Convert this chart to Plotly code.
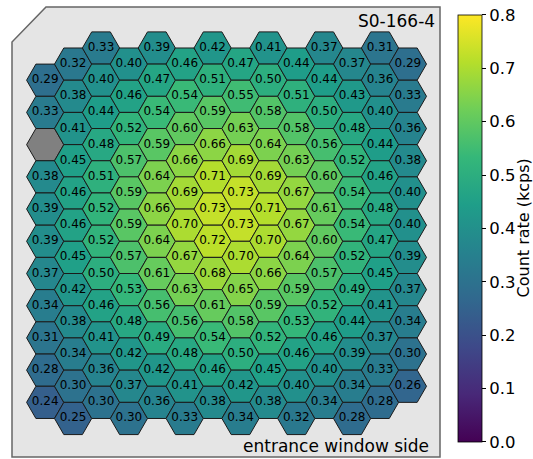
import numpy as np
import plotly.graph_objects as go
from plotly.colors import sample_colorscale

# Count rate (kcps) per detector pixel, one list per hex column, top to bottom.
# None = inactive pixel (drawn grey).
c00 = [0.29, 0.33, None, 0.38, 0.39, 0.39, 0.37, 0.34, 0.31, 0.28, 0.24]
c01 = [0.32, 0.38, 0.41, 0.45, 0.46, 0.46, 0.45, 0.42, 0.38, 0.34, 0.30, 0.25]
c02 = [0.33, 0.40, 0.44, 0.48, 0.51, 0.52, 0.52, 0.50, 0.46, 0.41, 0.36, 0.30]
c03 = [0.40, 0.46, 0.52, 0.57, 0.59, 0.59, 0.57, 0.53, 0.48, 0.42, 0.37, 0.30]
c04 = [0.39, 0.47, 0.54, 0.59, 0.64, 0.66, 0.64, 0.61, 0.56, 0.49, 0.42, 0.36]
c05 = [0.46, 0.54, 0.60, 0.66, 0.69, 0.70, 0.67, 0.63, 0.56, 0.48, 0.41, 0.33]
c06 = [0.42, 0.51, 0.59, 0.66, 0.71, 0.73, 0.72, 0.68, 0.61, 0.54, 0.46, 0.38]
c07 = [0.47, 0.55, 0.63, 0.69, 0.73, 0.73, 0.70, 0.65, 0.58, 0.50, 0.42, 0.34]
c08 = [0.41, 0.50, 0.58, 0.64, 0.69, 0.71, 0.70, 0.66, 0.59, 0.52, 0.45, 0.38]
c09 = [0.44, 0.51, 0.58, 0.63, 0.67, 0.67, 0.64, 0.59, 0.53, 0.46, 0.40, 0.32]
c10 = [0.37, 0.44, 0.50, 0.56, 0.60, 0.61, 0.60, 0.57, 0.52, 0.46, 0.40, 0.34]
c11 = [0.37, 0.43, 0.48, 0.52, 0.54, 0.54, 0.52, 0.49, 0.44, 0.39, 0.34, 0.28]
c12 = [0.31, 0.36, 0.40, 0.44, 0.46, 0.48, 0.47, 0.45, 0.41, 0.37, 0.33, 0.28]
c13 = [0.29, 0.33, 0.36, 0.38, 0.40, 0.40, 0.39, 0.37, 0.34, 0.30, 0.26]

columns = [c00, c01, c02, c03, c04, c05, c06, c07, c08, c09, c10, c11, c12, c13]
first_row = [1] + [0] * 13          # first column starts one cell lower

detector_label = "S0-166-4"
side_label = "entrance window side"
cbar_title = "Count rate (kcps)"
cbar_ticks = [0.0, 0.1, 0.2, 0.3, 0.4, 0.5, 0.6, 0.7, 0.8]
vmin, vmax = 0.0, 0.8

FONT = "DejaVu Sans"
R = 1.0
H = np.sqrt(3) / 2 * R

shapes = []
# background frame with cut corner (paper coords)
shapes.append(dict(
    type="path", xref="paper", yref="paper",
    path="M 0,0 L 0,0.922 L 0.0794,1 L 1,1 L 1,0 Z",
    fillcolor="#e5e5e5", line=dict(color="#666666", width=1.5), layer="below"))

tx, ty, tt = [], [], []
for i, col in enumerate(columns):
    x = 1.5 * R * i
    for j, v in enumerate(col):
        k = j + first_row[i]
        y = -k * 2 * H - (H if i % 2 else 0.0)
        pts = [(x + R, y), (x + R / 2, y + H), (x - R / 2, y + H),
               (x - R, y), (x - R / 2, y - H), (x + R / 2, y - H)]
        path = "M " + " L ".join(f"{px:.4f},{py:.4f}" for px, py in pts) + " Z"
        if v is None:
            fill = "#808080"
        else:
            fill = sample_colorscale("Viridis", [(v - vmin) / (vmax - vmin)])[0]
            tx.append(x); ty.append(y); tt.append(f"{v:.2f}")
        shapes.append(dict(type="path", xref="x", yref="y", path=path,
                           fillcolor=fill, line=dict(color="#1a1a1a", width=1),
                           layer="below"))

fig = go.Figure()
fig.add_trace(go.Scatter(
    x=tx, y=ty, text=tt, mode="text",
    textfont=dict(family=FONT, size=12, color="black"),
    hoverinfo="skip", showlegend=False))

# invisible trace carrying the colour bar
fig.add_trace(go.Scatter(
    x=[-100, -100], y=[-100, -100], mode="markers",
    marker=dict(color=[vmin, vmax], colorscale="Viridis", cmin=vmin, cmax=vmax,
                size=1, showscale=True,
                colorbar=dict(
                    x=1.042, xanchor="left", y=0.508, yanchor="middle",
                    len=0.948, lenmode="fraction", thickness=24,
                    thicknessmode="pixels", xpad=0, ypad=0,
                    outlinewidth=0.8, outlinecolor="black",
                    tickvals=cbar_ticks, ticktext=[f"{t:.1f}" for t in cbar_ticks],
                    ticks="outside", ticklen=4, tickwidth=1, tickcolor="black",
                    tickfont=dict(family=FONT, size=16.5, color="black"))),
    hoverinfo="skip", showlegend=False))

fig.update_layout(
    width=533, height=459,
    margin=dict(l=12, r=93, t=7, b=2, autoexpand=False),
    paper_bgcolor="white", plot_bgcolor="white",
    shapes=shapes,
    xaxis=dict(range=[-1.785, 21.226], visible=False, showgrid=False, zeroline=False),
    yaxis=dict(range=[-21.99, 2.204], visible=False, showgrid=False, zeroline=False),
    annotations=[
        dict(text=detector_label, xref="paper", yref="paper", x=0.993, y=0.968,
             xanchor="right", yanchor="middle", showarrow=False,
             font=dict(family=FONT, size=17, color="black")),
        dict(text=side_label, xref="paper", yref="paper", x=0.978, y=0.024,
             xanchor="right", yanchor="middle", showarrow=False,
             font=dict(family=FONT, size=17, color="black")),
        dict(text=cbar_title, xref="paper", yref="paper", x=1.194, y=0.508,
             xanchor="center", yanchor="middle", textangle=-90, showarrow=False,
             font=dict(family=FONT, size=16, color="black")),
    ],
)

fig.write_html(
    "out.html",
    config={"displayModeBar": False},
    post_script="document.body.style.margin='0';"
                "document.documentElement.style.overflow='hidden';",
)
